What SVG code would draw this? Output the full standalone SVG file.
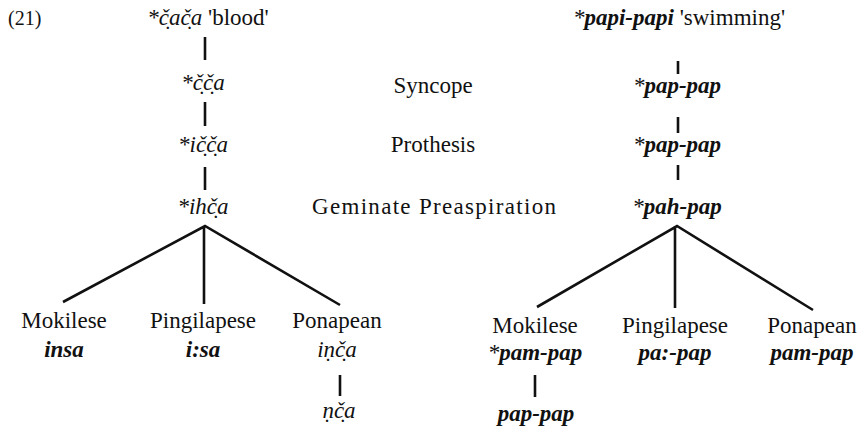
<svg xmlns="http://www.w3.org/2000/svg" width="863" height="428" viewBox="0 0 863 428" font-family="'Liberation Serif', 'DejaVu Serif', serif">
<style>
text{font-family:'Liberation Serif','DejaVu Serif',serif;font-size:23px;fill:#111;text-anchor:middle}
.it{font-style:italic}
.bi{font-style:italic;font-weight:bold}
.st{font-weight:normal}
.l{text-anchor:start}
.c path, .c line{stroke:#111;stroke-width:2.6;fill:none}
</style>
<rect width="863" height="428" fill="#fff"/>
<text class="l" x="8" y="25" style="font-size:20px">(21)</text>
<g id="rule-labels">
<text x="433" y="93">Syncope</text>
<text x="433" y="152">Prothesis</text>
<text x="434" y="214" textLength="244">Geminate Preaspiration</text>
</g>
<g id="n-blood"><text x="208" y="25"><tspan class="it">*č̣ač̣a</tspan> 'blood'</text></g>
<g id="n-cca"><text class="it" x="203" y="90">*č̣č̣a</text></g>
<g id="n-icca"><text class="it" x="203" y="152">*ič̣č̣a</text></g>
<g id="n-ihca"><text class="it" x="203" y="214">*ihč̣a</text></g>
<g id="n-mok1"><text x="64" y="328">Mokilese</text><text class="bi" x="64" y="357">insa</text></g>
<g id="n-pin1"><text x="203" y="328">Pingilapese</text><text class="bi" x="203" y="357">i:sa</text></g>
<g id="n-pon1"><text x="337" y="328">Ponapean</text><text class="it" x="337" y="357">iṇč̣a</text></g>
<g id="n-nca"><text class="it" x="339" y="418">ṇč̣a</text></g>
<g id="n-swim"><text x="679" y="25"><tspan class="bi"><tspan class="st">*</tspan>papi-papi</tspan> 'swimming'</text></g>
<g id="n-pap1"><text class="bi" x="677" y="93"><tspan class="st">*</tspan>pap-pap</text></g>
<g id="n-pap2"><text class="bi" x="677" y="152"><tspan class="st">*</tspan>pap-pap</text></g>
<g id="n-pah"><text class="bi" x="677" y="214"><tspan class="st">*</tspan>pah-pap</text></g>
<g id="n-mok2"><text x="535" y="333">Mokilese</text><text class="bi" x="535" y="360"><tspan class="st">*</tspan>pam-pap</text></g>
<g id="n-pappap"><text class="bi" x="536" y="421">pap-pap</text></g>
<g id="n-pin2"><text x="675" y="333">Pingilapese</text><text class="bi" x="675" y="360">pa:-pap</text></g>
<g id="n-pon2"><text x="812" y="333">Ponapean</text><text class="bi" x="812" y="360">pam-pap</text></g>
<g class="c" id="connectors">
<line x1="205" y1="37" x2="205" y2="60"/>
<line x1="205" y1="102" x2="205" y2="126"/>
<line x1="205" y1="167" x2="205" y2="190"/>
<path d="M63 302 L205 226 L340 305 M204 226 L204 304"/>
<line x1="340" y1="375" x2="340" y2="396"/>
<line x1="678" y1="61" x2="678" y2="74"/>
<line x1="678" y1="117" x2="678" y2="133"/>
<line x1="678" y1="165" x2="678" y2="180"/>
<path d="M537 307 L677 226 L813 310 M675 226 L675 308"/>
<line x1="535" y1="375" x2="535" y2="397"/>
</g>
</svg>
